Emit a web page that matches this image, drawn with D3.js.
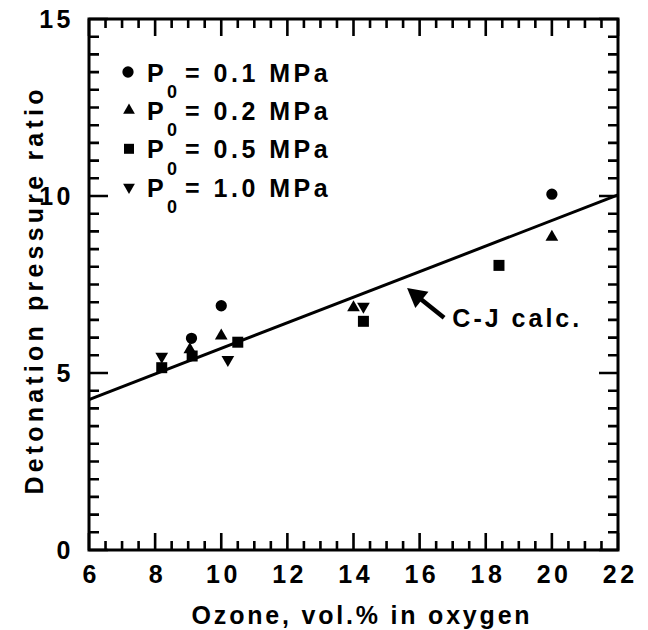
<!DOCTYPE html>
<html>
<head>
<meta charset="utf-8">
<script src="https://cdn.jsdelivr.net/npm/d3@7/dist/d3.min.js"></script>
<style>
  html, body { margin: 0; padding: 0; background: #fff; }
  svg text { font-family: "Liberation Sans", Arial, Helvetica, sans-serif; font-weight: bold; fill: #000; }
</style>
</head>
<body>
<svg id="chart" width="648" height="630"></svg>
<script>
// Detonation pressure ratio vs ozone concentration, four initial pressures
const xMajorTicks = [6, 8, 10, 12, 14, 16, 18, 20, 22];
const yMajorTicks = [0, 5, 10, 15];

// Measured points, [ozone vol.%, pressure ratio]
const p01 = [[9.1, 5.98], [10.0, 6.9], [20.0, 10.05]];
const p02 = [[9.05, 5.66], [10.0, 6.05], [14.0, 6.85], [20.0, 8.84]];
const p05 = [[8.2, 5.15], [9.12, 5.48], [10.5, 5.87], [14.3, 6.46], [18.4, 8.04]];
const p10 = [[8.2, 5.47], [10.2, 5.38], [14.3, 6.88]];

// Chapman-Jouguet calculation
const cjX = [6, 22];
const cjY = [4.25, 10.03];

const legendLabels = ["= 0.1 MPa", "= 0.2 MPa", "= 0.5 MPa", "= 1.0 MPa"];
const cjLabel = "C-J calc.";
const xTitle = "Ozone, vol.% in oxygen";
const yTitle = "Detonation pressure ratio";

const plotL = 89, plotR = 618, plotT = 19, plotB = 550;
const x = d3.scaleLinear().domain([6, 22]).range([plotL, plotR]);
const y = d3.scaleLinear().domain([0, 15]).range([plotB, plotT]);

const svg = d3.select("#chart");
const LS = "3.5px";

// tick positions: minor every 0.5, major on labelled values
const xMinor = d3.range(6, 22.001, 0.5).filter(v => Math.abs(v / 2 - Math.round(v / 2)) > 1e-6);
const yMinor = d3.range(0, 15.001, 0.5).filter(v => Math.abs(v / 5 - Math.round(v / 5)) > 1e-6);
const MAJ = 17, MIN = 9, TW = 2.6;

// tick labels from d3 axes
svg.append("g").attr("transform", `translate(0,${plotB})`)
  .call(d3.axisBottom(x).tickValues(xMajorTicks).tickSize(0).tickPadding(15).tickFormat(d3.format("d")))
  .call(g => g.select(".domain").remove())
  .call(g => g.selectAll("text").attr("font-size", 25).attr("letter-spacing", LS).attr("dx", "1.75px").attr("font-family", null));
svg.append("g").attr("transform", `translate(${plotL},0)`)
  .call(d3.axisLeft(y).tickValues(yMajorTicks).tickSize(0).tickPadding(15).tickFormat(d3.format("d")))
  .call(g => g.select(".domain").remove())
  .call(g => g.selectAll("text").attr("font-size", 25).attr("letter-spacing", LS).attr("font-family", null));

// frame
svg.append("rect")
  .attr("x", plotL).attr("y", plotT)
  .attr("width", plotR - plotL).attr("height", plotB - plotT)
  .attr("fill", "none").attr("stroke", "#000").attr("stroke-width", 3);

// tick marks, pointing inward on all four sides
const tickMarks = [];
xMajorTicks.forEach(v => tickMarks.push({ side: "x", v, size: MAJ }));
xMinor.forEach(v => tickMarks.push({ side: "x", v, size: MIN }));
yMajorTicks.forEach(v => tickMarks.push({ side: "y", v, size: MAJ + 2 }));
yMinor.forEach(v => tickMarks.push({ side: "y", v, size: MIN + 1 }));
const tickPath = d3.path();
tickMarks.forEach(t => {
  if (t.side === "x") {
    tickPath.moveTo(x(t.v), plotB); tickPath.lineTo(x(t.v), plotB - t.size);
    tickPath.moveTo(x(t.v), plotT); tickPath.lineTo(x(t.v), plotT + t.size);
  } else {
    tickPath.moveTo(plotL, y(t.v)); tickPath.lineTo(plotL + t.size, y(t.v));
    tickPath.moveTo(plotR, y(t.v)); tickPath.lineTo(plotR - t.size, y(t.v));
  }
});
svg.append("path").attr("d", tickPath.toString())
  .attr("fill", "none").attr("stroke", "#000").attr("stroke-width", TW);

// C-J line
svg.append("path")
  .datum(cjX.map((v, i) => [v, cjY[i]]))
  .attr("d", d3.line().x(d => x(d[0])).y(d => y(d[1])))
  .attr("fill", "none").attr("stroke", "#000").attr("stroke-width", 3);

// markers
const sym = {
  circle: d3.symbol().type(d3.symbolCircle).size(100),
  up: d3.symbol().type(d3.symbolTriangle).size(70),
  square: d3.symbol().type(d3.symbolSquare).size(121),
  down: d3.symbol().type(d3.symbolTriangle).size(70)
};
const series = [
  { data: p01, shape: "circle" },
  { data: p02, shape: "up" },
  { data: p05, shape: "square" },
  { data: p10, shape: "down" }
];
series.forEach(s => {
  svg.append("g").selectAll("path").data(s.data).join("path")
    .attr("d", sym[s.shape]())
    .attr("transform", d => `translate(${x(d[0])},${y(d[1])})${s.shape === "down" ? " rotate(180)" : ""}`)
    .attr("fill", "#000");
});

// legend
const lg = svg.append("g");
series.forEach((s, i) => {
  const cy = 72 + i * 38.4;
  lg.append("path")
    .attr("d", d3.symbol().type(s.shape === "circle" ? d3.symbolCircle : s.shape === "square" ? d3.symbolSquare : d3.symbolTriangle)
      .size(s.shape === "circle" ? 100 : s.shape === "square" ? 100 : 60)())
    .attr("transform", `translate(${s.shape === "circle" ? 128 : 129},${cy})${s.shape === "down" ? " rotate(180)" : ""}`)
    .attr("fill", "#000");
  lg.append("text").attr("x", 147).attr("y", cy + 9.5).attr("font-size", 25).text("P");
  lg.append("text").attr("x", 172).attr("y", cy + 26).attr("font-size", 18).attr("text-anchor", "middle").text("0");
  lg.append("text").attr("x", 185).attr("y", cy + 9.5).attr("font-size", 25).attr("letter-spacing", LS).text(legendLabels[i]);
});

// annotation arrow
const tip = [x(15.62), y(7.4)];
const tail = [x(16.74), y(6.56)];
const ddx = tip[0] - tail[0], ddy = tip[1] - tail[1];
const alen = Math.hypot(ddx, ddy), ux = ddx / alen, uy = ddy / alen;
const hl = 19, hw = 10.5;
const base = [tip[0] - ux * hl, tip[1] - uy * hl];
svg.append("line")
  .attr("x1", tail[0]).attr("y1", tail[1]).attr("x2", base[0] + ux * 2).attr("y2", base[1] + uy * 2)
  .attr("stroke", "#000").attr("stroke-width", 4.5);
svg.append("path")
  .attr("d", `M${tip[0]},${tip[1]}L${base[0] - uy * hw},${base[1] + ux * hw}L${base[0] + uy * hw},${base[1] - ux * hw}Z`)
  .attr("fill", "#000");
svg.append("text").attr("x", x(16.99)).attr("y", y(6.3)).attr("font-size", 25).attr("letter-spacing", "3px").text(cjLabel);

// axis titles
svg.append("text").attr("x", 362).attr("y", 624).attr("text-anchor", "middle")
  .attr("font-size", 25).attr("letter-spacing", "2.8px").text(xTitle);
svg.append("text").attr("transform", "translate(43,290) rotate(-90)").attr("text-anchor", "middle")
  .attr("font-size", 25).attr("letter-spacing", "4.2px").text(yTitle);
</script>
</body>
</html>
